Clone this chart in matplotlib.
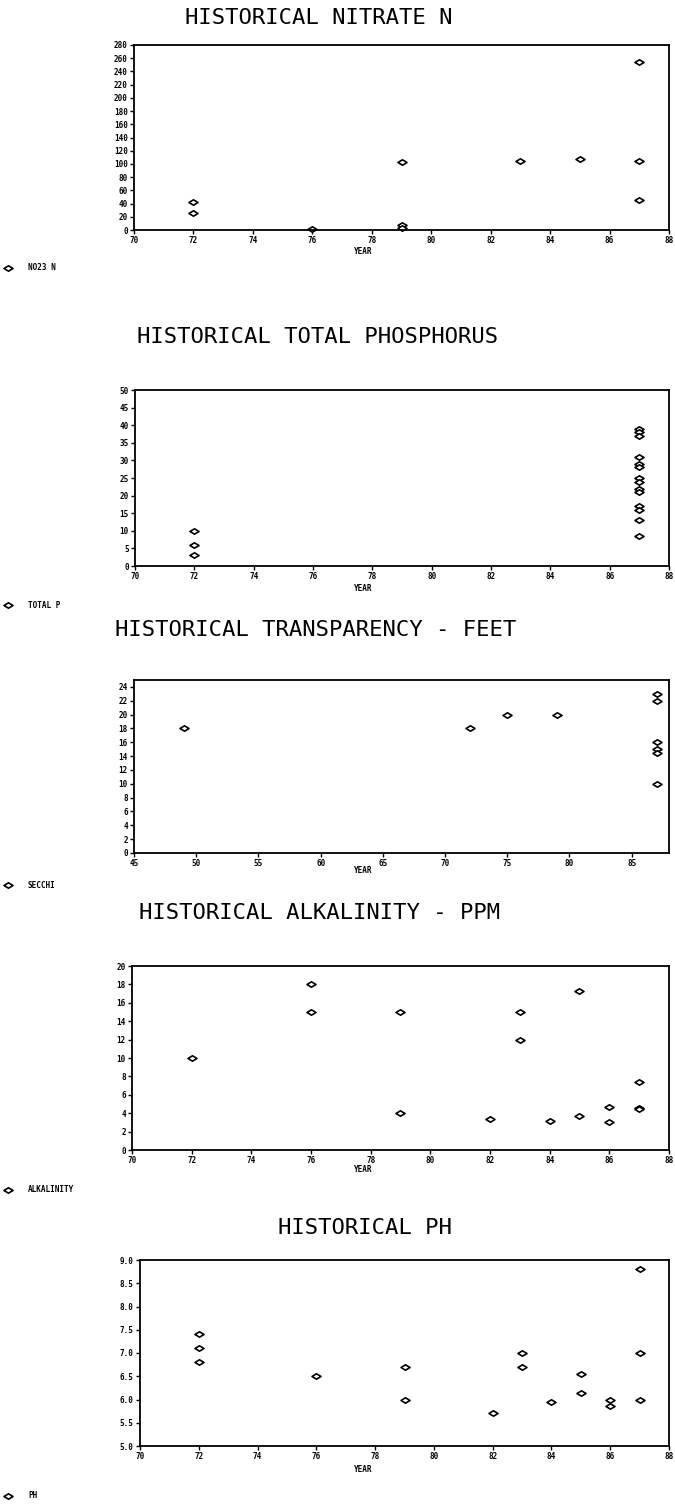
import matplotlib
matplotlib.use('Agg')
import matplotlib.pyplot as plt
from matplotlib.path import Path

# sample years (19xx) and measured values for each parameter
nitrate_years = [72, 72, 76, 79, 79, 79, 83, 85, 87, 87, 87]
nitrate_values = [42, 26, 2, 103, 7, 3, 104, 107, 255, 105, 45]

phos_years = [72, 72, 72] + [87] * 14
phos_values = [10, 6, 3, 39, 38, 37, 31, 29, 28, 25, 24, 22, 21, 17, 16, 13, 8.5]

secchi_years = [49, 72, 75, 79, 87, 87, 87, 87, 87, 87]
secchi_values = [18, 18, 20, 20, 23, 22, 16, 15, 14.5, 10]

alk_years = [72, 76, 76, 79, 79, 82, 83, 83, 84, 85, 85, 86, 86, 87, 87, 87]
alk_values = [10, 18, 15, 15, 4, 3.4, 15, 12, 3.2, 17.3, 3.7, 4.7, 3.0, 7.4, 4.6, 4.5]

ph_years = [72, 72, 72, 76, 79, 79, 82, 83, 83, 84, 85, 85, 86, 86, 87, 87, 87]
ph_values = [7.4, 7.1, 6.8, 6.5, 6.7, 6.0, 5.7, 7.0, 6.7, 5.95, 6.55, 6.15, 6.0, 5.85, 8.8, 7.0, 6.0]

W, H = 675, 1507
MONO = 'DejaVu Sans Mono'

# flat open diamond like the plotter symbol
diamond = Path([(-1, 0), (0, 0.6), (1, 0), (0, -0.6), (-1, 0)],
               [Path.MOVETO, Path.LINETO, Path.LINETO, Path.LINETO, Path.CLOSEPOLY])

panels = [
    dict(title='HISTORICAL NITRATE N', label='NO23 N', x=nitrate_years, y=nitrate_values,
         xlim=(70, 88), xticks=range(70, 89, 2), ylim=(0, 280), yticks=range(0, 281, 20), fmt='%d',
         box=(134, 669, 45, 230), title_xy=(319, 18), year_y=251, legend_y=268),
    dict(title='HISTORICAL TOTAL PHOSPHORUS', label='TOTAL P', x=phos_years, y=phos_values,
         xlim=(70, 88), xticks=range(70, 89, 2), ylim=(0, 50), yticks=range(0, 51, 5), fmt='%d',
         box=(135, 669, 390, 566), title_xy=(318, 337), year_y=589, legend_y=605),
    dict(title='HISTORICAL TRANSPARENCY - FEET', label='SECCHI', x=secchi_years, y=secchi_values,
         xlim=(45, 88), xticks=range(45, 86, 5), ylim=(0, 25), yticks=range(0, 25, 2), fmt='%d',
         box=(134, 669, 680, 853), title_xy=(316, 630), year_y=871, legend_y=885),
    dict(title='HISTORICAL ALKALINITY - PPM', label='ALKALINITY', x=alk_years, y=alk_values,
         xlim=(70, 88), xticks=range(70, 89, 2), ylim=(0, 20), yticks=range(0, 21, 2), fmt='%d',
         box=(132, 669, 966, 1150), title_xy=(320, 913), year_y=1170, legend_y=1190),
    dict(title='HISTORICAL PH', label='PH', x=ph_years, y=ph_values,
         xlim=(70, 88), xticks=range(70, 89, 2), ylim=(5, 9), yticks=[5 + 0.5 * i for i in range(9)], fmt='%.1f',
         box=(140, 669, 1260, 1446), title_xy=(365, 1228), year_y=1470, legend_y=1496),
]

fig = plt.figure(figsize=(W / 100, H / 100), dpi=100)

for p in panels:
    left, right, top, bottom = p['box']
    ax = fig.add_axes([left / W, 1 - bottom / H, (right - left) / W, (bottom - top) / H])
    line, = ax.plot(p['x'], p['y'], ls='none', marker=diamond, ms=6.5, mew=1.2,
                    mfc='white', mec='black', color='black', label=p['label'], clip_on=False)
    ax.set_xlim(*p['xlim'])
    ax.set_ylim(*p['ylim'])
    ax.set_xticks(list(p['xticks']))
    ax.set_yticks(list(p['yticks']))
    ax.set_yticklabels([p['fmt'] % v for v in p['yticks']])
    ax.tick_params(direction='out', length=3, width=1, pad=1.5, labelsize=5.5)
    for lbl in ax.get_xticklabels() + ax.get_yticklabels():
        lbl.set_family(MONO)
        lbl.set_weight('bold')
    for sp in ax.spines.values():
        sp.set_linewidth(1.3)

    fig.text(p['title_xy'][0] / W, 1 - p['title_xy'][1] / H, p['title'],
             ha='center', va='center', fontsize=16, family=MONO)
    fig.text(363 / W, 1 - p['year_y'] / H, 'YEAR', ha='center', va='center',
             fontsize=5.5, family=MONO, weight='bold')
    ax.legend(handles=[line], loc='center left', bbox_to_anchor=(0.004, 1 - p['legend_y'] / H),
              bbox_transform=fig.transFigure, frameon=False, handlelength=0.8,
              handletextpad=2.2, borderpad=0, borderaxespad=0.3,
              prop=dict(family=MONO, size=5.5, weight='bold'))

fig.savefig('out.png', dpi=100, facecolor='white')
